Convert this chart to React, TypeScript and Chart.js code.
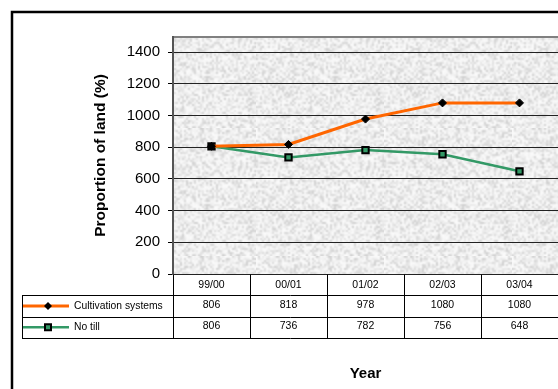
import React, { useEffect, useRef } from "react";
import { Chart, registerables } from "chart.js";

Chart.register(...registerables);

const categories = ["99/00", "00/01", "01/02", "02/03", "03/04"];
const cultivationSystems = [806, 818, 978, 1080, 1080];
const noTill = [806, 736, 782, 756, 648];
const seriesNames = ["Cultivation systems", "No till"];
const yTickValues = [0, 200, 400, 600, 800, 1000, 1200, 1400];
const yAxisTitle = "Proportion of land (%)";
const xAxisTitle = "Year";

const FONT = "Arial, 'Liberation Sans', sans-serif";
const ORANGE = "#FF6600";
const GREEN = "#339966";

function frac(v: number) {
  return v - Math.floor(v);
}

function makeTexture(ctx: CanvasRenderingContext2D): CanvasPattern | string {
  const n = 64;
  const small = document.createElement("canvas");
  small.width = n;
  small.height = n;
  const sctx = small.getContext("2d");
  if (!sctx) return "#ececec";
  const img = sctx.createImageData(n, n);
  for (let y = 0; y < n; y++) {
    for (let x = 0; x < n; x++) {
      const h = frac(Math.sin(x * 12.9898 + y * 78.233) * 43758.5453);
      const v = Math.round(250 - h * h * 42);
      const i = (y * n + x) * 4;
      img.data[i] = v;
      img.data[i + 1] = v;
      img.data[i + 2] = v;
      img.data[i + 3] = 255;
    }
  }
  sctx.putImageData(img, 0, 0);
  const big = document.createElement("canvas");
  big.width = n * 2;
  big.height = n * 2;
  const bctx = big.getContext("2d");
  if (!bctx) return "#ececec";
  bctx.imageSmoothingEnabled = true;
  bctx.drawImage(small, 0, 0, n * 2, n * 2);
  return ctx.createPattern(big, "repeat") || "#ececec";
}

function drawDiamond(ctx: CanvasRenderingContext2D, x: number, y: number, r: number) {
  ctx.beginPath();
  ctx.moveTo(x, y - r);
  ctx.lineTo(x + r, y);
  ctx.lineTo(x, y + r);
  ctx.lineTo(x - r, y);
  ctx.closePath();
  ctx.fillStyle = "#000";
  ctx.fill();
}

function drawSquare(ctx: CanvasRenderingContext2D, x: number, y: number, s: number) {
  ctx.fillStyle = GREEN;
  ctx.fillRect(x - s / 2, y - s / 2, s, s);
  ctx.strokeStyle = "#000";
  ctx.lineWidth = 2;
  ctx.strokeRect(x - s / 2, y - s / 2, s, s);
}

const excelPlugin = {
  id: "excelLook",
  beforeDraw(chart: any) {
    const { ctx, chartArea: a } = chart;
    ctx.save();
    ctx.fillStyle = "#ffffff";
    ctx.fillRect(0, 0, chart.width, chart.height);
    if (!chart.$texture) chart.$texture = makeTexture(ctx);
    ctx.fillStyle = chart.$texture;
    ctx.fillRect(a.left, a.top, a.right - a.left, a.bottom - a.top);
    ctx.strokeStyle = "#808080";
    ctx.lineWidth = 2;
    ctx.beginPath();
    ctx.moveTo(a.left, a.top);
    ctx.lineTo(a.right + 2, a.top);
    ctx.stroke();
    ctx.restore();
  },
  afterDraw(chart: any) {
    const { ctx, chartArea: a } = chart;
    const xs = chart.scales.x;
    const colW = (a.right - a.left) / categories.length;
    const rowH = 21.3;
    const top = a.bottom;
    const r1 = top + rowH;
    const r2 = r1 + rowH;
    const r3 = r2 + rowH;
    const tableLeft = 22;
    ctx.save();
    ctx.strokeStyle = "#000";
    ctx.lineWidth = 1;
    const crisp = (v: number) => Math.round(v) + 0.5;
    ctx.beginPath();
    [r1, r2, r3].forEach((y) => {
      ctx.moveTo(tableLeft, crisp(y));
      ctx.lineTo(chart.width + 5, crisp(y));
    });
    ctx.moveTo(crisp(tableLeft), crisp(r1));
    ctx.lineTo(crisp(tableLeft), crisp(r3));
    for (let i = 0; i <= categories.length; i++) {
      const x = a.left + colW * i;
      ctx.moveTo(crisp(x), crisp(top));
      ctx.lineTo(crisp(x), crisp(r3));
    }
    ctx.stroke();

    ctx.fillStyle = "#000";
    ctx.font = `10.5px ${FONT}`;
    ctx.textAlign = "center";
    ctx.textBaseline = "middle";
    categories.forEach((c, i) => {
      const cx = xs.getPixelForValue(i);
      ctx.fillText(c, cx, top + rowH / 2);
      ctx.fillText(String(cultivationSystems[i]), cx, r1 + rowH / 2 - 1);
      ctx.fillText(String(noTill[i]), cx, r2 + rowH / 2 - 1);
    });

    const keyL = 23;
    const keyR = 69;
    const keyM = 48;
    const y1 = r1 + rowH / 2;
    const y2 = r2 + rowH / 2;
    ctx.lineWidth = 3;
    ctx.strokeStyle = ORANGE;
    ctx.beginPath();
    ctx.moveTo(keyL, y1);
    ctx.lineTo(keyR, y1);
    ctx.stroke();
    drawDiamond(ctx, keyM, y1, 4);
    ctx.lineWidth = 2.5;
    ctx.strokeStyle = GREEN;
    ctx.beginPath();
    ctx.moveTo(keyL, y2);
    ctx.lineTo(keyR, y2);
    ctx.stroke();
    drawSquare(ctx, keyM, y2, 6);
    ctx.fillStyle = "#000";
    ctx.textAlign = "left";
    ctx.font = `10.3px ${FONT}`;
    ctx.fillText(seriesNames[0], 74, y1);
    ctx.fillText(seriesNames[1], 74, y2);

    ctx.strokeStyle = "#000";
    ctx.lineWidth = 2.5;
    ctx.strokeRect(12, 12, chart.width + 20, chart.height + 20);
    ctx.restore();
  },
};

export default function App() {
  const ref = useRef<HTMLCanvasElement | null>(null);

  useEffect(() => {
    if (!ref.current) return;
    const chart = new Chart(ref.current, {
      type: "line",
      data: {
        labels: categories,
        datasets: [
          {
            label: seriesNames[0],
            data: cultivationSystems,
            borderColor: ORANGE,
            backgroundColor: "#000",
            borderWidth: 3,
            pointStyle: "rectRot",
            pointRadius: 4,
            pointBackgroundColor: "#000",
            pointBorderColor: "#000",
            pointBorderWidth: 1,
            tension: 0,
          },
          {
            label: seriesNames[1],
            data: noTill,
            borderColor: GREEN,
            backgroundColor: GREEN,
            borderWidth: 2.5,
            pointStyle: "rect",
            pointRadius: 4.5,
            pointBackgroundColor: GREEN,
            pointBorderColor: "#000",
            pointBorderWidth: 2,
            tension: 0,
          },
        ],
      },
      options: {
        animation: false,
        responsive: false,
        devicePixelRatio: 1,
        layout: { autoPadding: false, padding: { top: 37, left: 0, right: 0, bottom: 0 } },
        plugins: {
          legend: { display: false },
          tooltip: { enabled: false },
        },
        scales: {
          x: {
            type: "category",
            offset: true,
            grid: { display: false, drawTicks: false },
            border: { display: false },
            ticks: { display: false },
            title: {
              display: true,
              text: xAxisTitle,
              color: "#000",
              font: { family: FONT, size: 15, weight: "bold" },
              padding: { top: 0, bottom: 6 },
            },
            afterFit: (s: any) => {
              s.height = 115;
            },
          },
          y: {
            min: 0,
            max: 1496,
            ticks: {
              stepSize: 200,
              color: "#000",
              padding: 8,
              font: { family: FONT, size: 15 },
              callback: (v: any) => String(v),
            },
            afterBuildTicks: (s: any) => {
              s.ticks = yTickValues.map((v) => ({ value: v }));
            },
            grid: {
              color: "#222",
              lineWidth: 1,
              drawTicks: true,
              tickLength: 5,
              tickColor: "#000",
            },
            border: { display: true, color: "#555", width: 2 },
            title: {
              display: true,
              text: yAxisTitle,
              color: "#000",
              font: { family: FONT, size: 15.5, weight: "bold" },
              padding: { top: 91.5, bottom: 0 },
            },
            afterFit: (s: any) => {
              s.width = 173;
            },
          },
        },
      },
      plugins: [excelPlugin],
    });
    return () => chart.destroy();
  }, []);

  return (
    <div style={{ position: "absolute", left: 0, top: 0, width: 558, height: 389 }}>
      <canvas ref={ref} width={558} height={389} style={{ width: 558, height: 389, display: "block" }} />
    </div>
  );
}
